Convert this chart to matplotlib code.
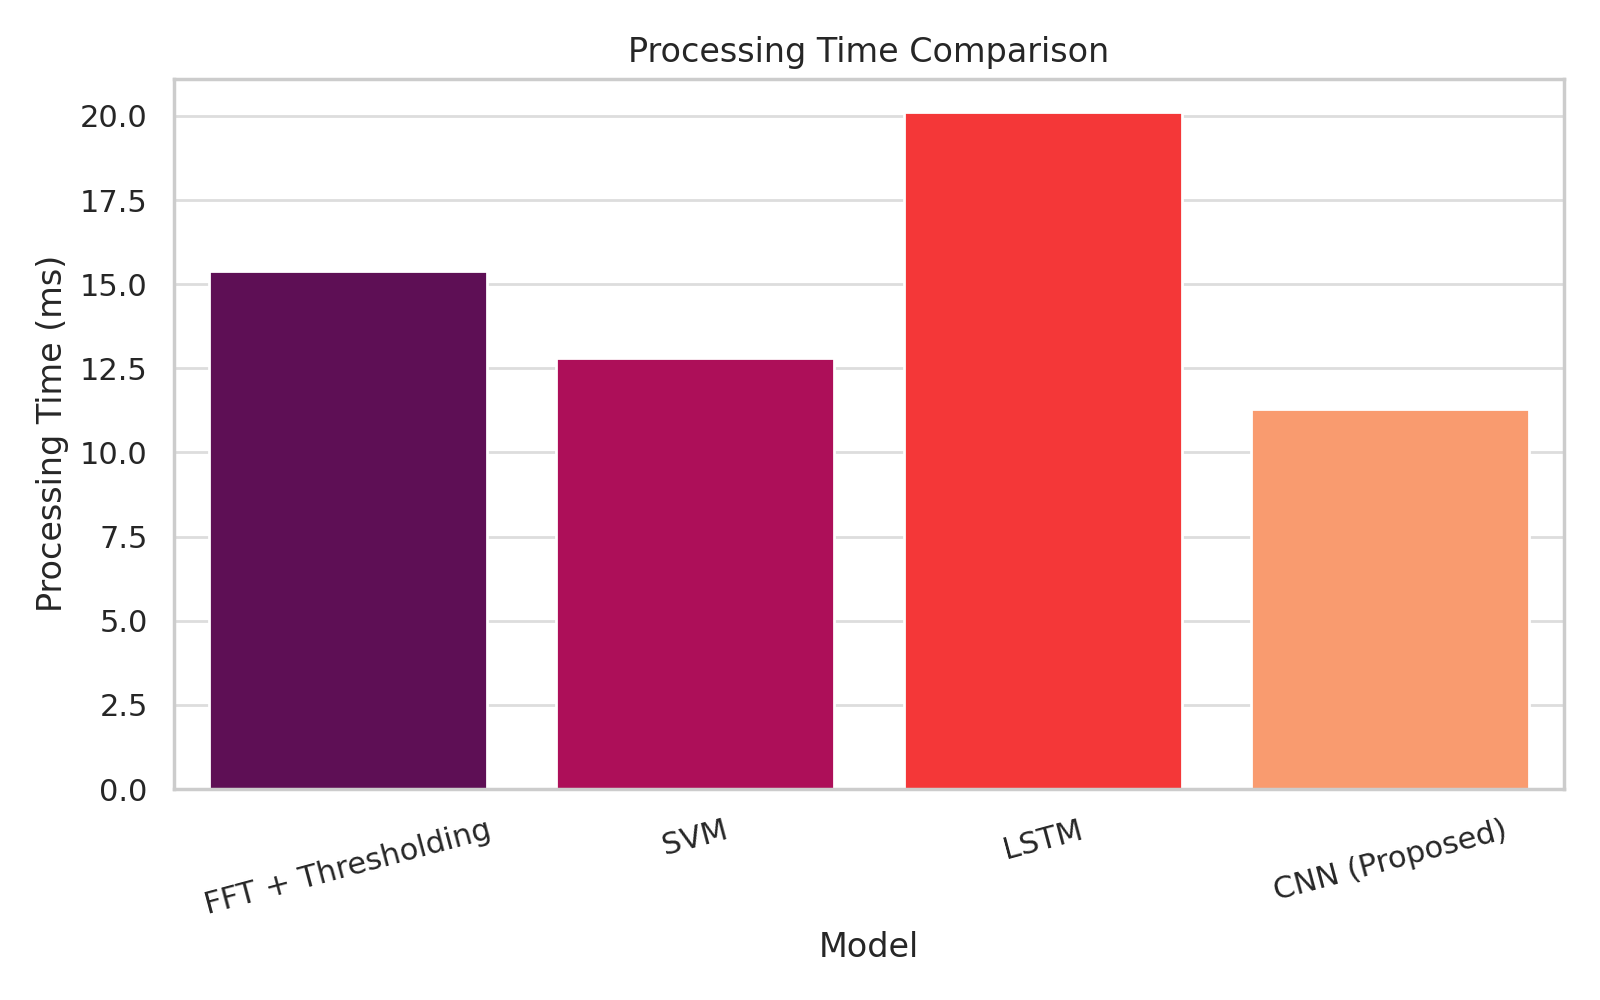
import matplotlib
matplotlib.use("Agg")
import matplotlib.pyplot as plt
import seaborn as sns

models = ["FFT + Thresholding", "SVM", "LSTM", "CNN (Proposed)"]
times_ms = [15.38, 12.8, 20.1, 11.28]

sns.set_theme(style="whitegrid")

fig, ax = plt.subplots(figsize=(8, 5), dpi=200)
colors = ["#5e0f55", "#ad0f59", "#f43738", "#f99b6f"]
ax.bar(models, times_ms, color=colors, width=0.8, edgecolor="white")
ax.set_xlim(-0.5, 3.5)
ax.grid(axis="x", visible=False)
ax.grid(axis="y", color="#dddddd")
ax.set_title("Processing Time Comparison")
ax.set_xlabel("Model")
ax.set_ylabel("Processing Time (ms)")
plt.xticks(rotation=15)
plt.tight_layout()
plt.savefig("out.png")
